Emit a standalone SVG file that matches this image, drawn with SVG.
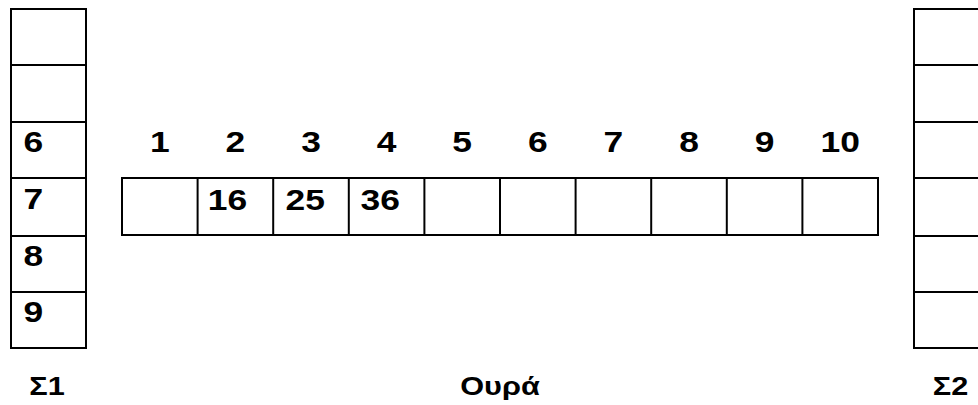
<svg xmlns="http://www.w3.org/2000/svg" width="978" height="405" viewBox="0 0 978 405">
<style>
.box{fill:#fff;stroke:#000;stroke-width:2}
.ln{stroke:#000;stroke-width:2}
.t{font-family:"Liberation Sans",Arial,sans-serif;font-weight:bold;font-size:30px;fill:#000}
.c{text-anchor:middle}
.lb{font-family:"Liberation Sans",Arial,sans-serif;font-weight:bold;font-size:26px;fill:#000;text-anchor:middle}
</style>
<rect width="978" height="405" fill="#fff"/>
<g id="stack1">
<rect class="box" x="11" y="9" width="75" height="339"/>
<line class="ln" x1="11" y1="65" x2="86" y2="65"/>
<line class="ln" x1="11" y1="122" x2="86" y2="122"/>
<line class="ln" x1="11" y1="178" x2="86" y2="178"/>
<line class="ln" x1="11" y1="236" x2="86" y2="236"/>
<line class="ln" x1="11" y1="292" x2="86" y2="292"/>
<text class="t" transform="translate(23.6,152) scale(1.18,1)">6</text>
<text class="t" transform="translate(23.6,209) scale(1.18,1)">7</text>
<text class="t" transform="translate(23.6,266) scale(1.18,1)">8</text>
<text class="t" transform="translate(23.6,322) scale(1.18,1)">9</text>
<text class="lb" transform="translate(47,395) scale(1.18,1)">Σ1</text>
</g>
<g id="queue">
<rect class="box" x="122" y="178" width="756" height="57"/>
<line class="ln" x1="197.6" y1="178" x2="197.6" y2="235"/>
<line class="ln" x1="273.2" y1="178" x2="273.2" y2="235"/>
<line class="ln" x1="348.8" y1="178" x2="348.8" y2="235"/>
<line class="ln" x1="424.4" y1="178" x2="424.4" y2="235"/>
<line class="ln" x1="500" y1="178" x2="500" y2="235"/>
<line class="ln" x1="575.6" y1="178" x2="575.6" y2="235"/>
<line class="ln" x1="651.2" y1="178" x2="651.2" y2="235"/>
<line class="ln" x1="726.8" y1="178" x2="726.8" y2="235"/>
<line class="ln" x1="802.4" y1="178" x2="802.4" y2="235"/>
<text class="t c" transform="translate(159.8,152) scale(1.18,1)">1</text>
<text class="t c" transform="translate(235.4,152) scale(1.18,1)">2</text>
<text class="t c" transform="translate(311,152) scale(1.18,1)">3</text>
<text class="t c" transform="translate(386.6,152) scale(1.18,1)">4</text>
<text class="t c" transform="translate(462.2,152) scale(1.18,1)">5</text>
<text class="t c" transform="translate(537.8,152) scale(1.18,1)">6</text>
<text class="t c" transform="translate(613.4,152) scale(1.18,1)">7</text>
<text class="t c" transform="translate(689,152) scale(1.18,1)">8</text>
<text class="t c" transform="translate(764.6,152) scale(1.18,1)">9</text>
<text class="t c" transform="translate(840.2,152) scale(1.18,1)">10</text>
<text class="t" transform="translate(207.7,210) scale(1.18,1)">16</text>
<text class="t" transform="translate(285.6,210) scale(1.18,1)">25</text>
<text class="t" transform="translate(360.6,210) scale(1.18,1)">36</text>
<text class="lb" transform="translate(500,395) scale(1.18,1)">Ουρά</text>
</g>
<g id="stack2">
<rect class="box" x="914" y="9" width="100" height="339"/>
<line class="ln" x1="914" y1="65" x2="978" y2="65"/>
<line class="ln" x1="914" y1="122" x2="978" y2="122"/>
<line class="ln" x1="914" y1="178" x2="978" y2="178"/>
<line class="ln" x1="914" y1="236" x2="978" y2="236"/>
<line class="ln" x1="914" y1="292" x2="978" y2="292"/>
<text class="lb" transform="translate(950.5,395) scale(1.18,1)">Σ2</text>
</g>
</svg>
